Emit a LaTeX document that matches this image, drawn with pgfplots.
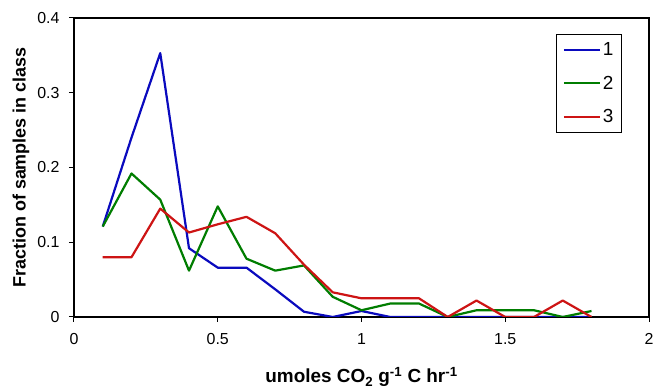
\documentclass[border=0pt]{standalone}
\usepackage{pgfplots}
\pgfplotsset{compat=1.18}
\usepackage{fontspec}
\setmainfont{Liberation Sans}
\definecolor{cblue}{RGB}{10,10,190}
\definecolor{cgreen}{RGB}{0,125,0}
\definecolor{cred}{RGB}{205,20,20}
\begin{document}
\begin{tikzpicture}
\begin{axis}[name=ax, scale only axis, width=575bp, height=299bp,
  xmin=0, xmax=2, ymin=0, ymax=0.4,
  xtick={0,0.5,1,1.5,2}, ytick={0,0.1,0.2,0.3,0.4},
  yticklabel style={/pgf/number format/fixed, /pgf/number format/precision=1, xshift=-6bp},
  xticklabel style={yshift=-8bp},
  /pgf/number format/assume math mode=true,
  tick label style={font=\fontsize{16}{16}\selectfont},
  tick align=outside, major tick length=5bp,
  xtick pos=lower, ytick pos=left,
  tick style={black, line width=1bp},
  axis line style={black, line width=1.3bp},
  xlabel={umoles CO\textsubscript{2} g\textsuperscript{-1} C hr\textsuperscript{-1}},
  xlabel style={font=\fontsize{19}{19}\selectfont\bfseries, at={(axis description cs:0.5,-0.2207)}, anchor=base},
  ylabel={Fraction of samples in class},
  ylabel style={font=\fontsize{18}{18}\selectfont\bfseries, at={(axis description cs:-0.084,0.5)}, anchor=base},
  legend style={at={(axis description cs:0.953,0.9465)}, anchor=north east, draw=black, line width=1bp,
    font=\fontsize{19}{19}\selectfont, row sep=15bp, inner sep=6bp},
  legend cell align=left,
  legend image code/.code={\draw[#1] (0bp,0bp) -- (36bp,0bp);},
  every axis plot/.append style={line width=2.2bp, line join=round},
]
\addplot[cblue] coordinates {
(0.1,0.121) (0.2,0.24) (0.3,0.353) (0.4,0.092) (0.5,0.066) (0.6,0.066)
(0.7,0.037) (0.8,0.007) (0.9,0.0) (1.0,0.008) (1.1,0.0) (1.2,0.0)
(1.3,0.0) (1.4,0.0) (1.5,0.0) (1.6,0.0) (1.7,0.0) (1.8,0.0)};
\addlegendentry{1}
\addplot[cgreen] coordinates {
(0.1,0.121) (0.2,0.192) (0.3,0.157) (0.4,0.062) (0.5,0.148) (0.6,0.078)
(0.7,0.062) (0.8,0.069) (0.9,0.027) (1.0,0.009) (1.1,0.018) (1.2,0.018)
(1.3,0.0) (1.4,0.009) (1.5,0.009) (1.6,0.009) (1.7,0.0) (1.8,0.008)};
\addlegendentry{2}
\addplot[cred] coordinates {
(0.1,0.08) (0.2,0.08) (0.3,0.145) (0.4,0.113) (0.5,0.124) (0.6,0.134)
(0.7,0.112) (0.8,0.07) (0.9,0.033) (1.0,0.025) (1.1,0.025) (1.2,0.025)
(1.3,0.0) (1.4,0.022) (1.5,0.0) (1.6,0.0) (1.7,0.022) (1.8,0.0)};
\addlegendentry{3}
\end{axis}
\pgfresetboundingbox
\path ([xshift=-74bp,yshift=-71bp]ax.south west) rectangle ([xshift=13bp,yshift=18bp]ax.north east);
\end{tikzpicture}
\end{document}
